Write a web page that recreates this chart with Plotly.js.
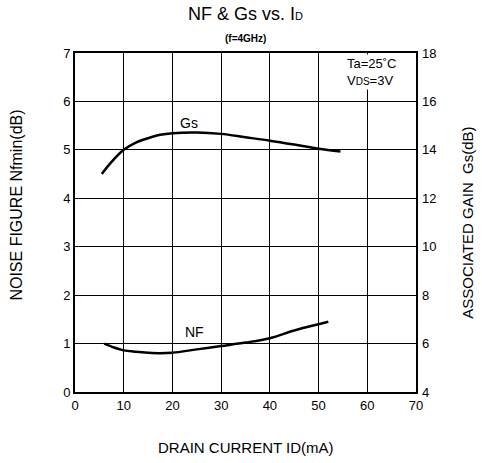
<!DOCTYPE html>
<html>
<head>
<meta charset="utf-8">
<script src="https://cdn.plot.ly/plotly-3.0.1.min.js"></script>
<style>html,body{margin:0;padding:0;background:#fff;}#chart{width:482px;height:463px;}</style>
</head>
<body>
<div id="chart"></div>
<script>
// Drain current (mA) and noise figure NFmin (dB)
const nfCurrent = [6, 8, 10, 12.5, 15, 17.5, 20, 25, 30, 35, 40, 45, 50, 52];
const nfValues  = [1.0, 0.92, 0.86, 0.83, 0.81, 0.80, 0.81, 0.88, 0.95, 1.02, 1.11, 1.27, 1.40, 1.45];
// Drain current (mA) and associated gain Gs (dB)
const gsCurrent = [5.5, 7.5, 10, 12.5, 15, 17.5, 20, 25, 30, 35, 40, 45, 50, 54.5];
const gsValues  = [13.0, 13.5, 14.0, 14.3, 14.48, 14.62, 14.69, 14.72, 14.66, 14.52, 14.38, 14.22, 14.05, 13.93];
// Axis ticks
const xTicks = [0, 10, 20, 30, 40, 50, 60, 70];
const nfTicks = [0, 1, 2, 3, 4, 5, 6, 7];
const gsTicks = [4, 6, 8, 10, 12, 14, 16, 18];

const FONT = 'Liberation Sans, Arial, Helvetica, sans-serif';

const traces = [
  {x: nfCurrent, y: nfValues, type: 'scatter', mode: 'lines', name: 'NF',
   line: {color: '#000', width: 2.5, shape: 'spline'}, yaxis: 'y'},
  {x: gsCurrent, y: gsValues, type: 'scatter', mode: 'lines', name: 'Gs',
   line: {color: '#000', width: 2.5, shape: 'spline'}, yaxis: 'y2'}
];

const layout = {
  width: 482, height: 463,
  margin: {l: 75, r: 66, t: 53, b: 71},
  paper_bgcolor: '#fff', plot_bgcolor: '#fff',
  showlegend: false,
  font: {family: FONT, color: '#000', size: 13},
  xaxis: {range: [0, 70], tickmode: 'array', tickvals: xTicks, ticktext: xTicks.map(String),
    showgrid: true, gridcolor: 'rgb(0,0,0)', gridwidth: 1.2, zeroline: false,
    showline: true, linecolor: '#000', linewidth: 2, mirror: true,
    ticks: '', tickfont: {size: 13}, fixedrange: true},
  yaxis: {range: [0, 7], tickmode: 'array', tickvals: nfTicks, ticktext: nfTicks.map(String),
    showgrid: true, gridcolor: 'rgb(0,0,0)', gridwidth: 1.2, zeroline: false,
    showline: true, linecolor: '#000', linewidth: 2, mirror: true,
    ticks: '', tickfont: {size: 13}, fixedrange: true},
  yaxis2: {range: [4, 18], tickmode: 'array', tickvals: gsTicks, ticktext: gsTicks.map(String),
    overlaying: 'y', side: 'right', showgrid: false, zeroline: false,
    showline: false, ticks: '', ticklabelstandoff: 5, tickfont: {size: 13}, fixedrange: true},
  annotations: [
    {text: 'NF &amp; Gs vs. I<span style="font-size:11px">D</span>', xref: 'paper', yref: 'paper',
     x: 0.5, y: 1.115, showarrow: false, font: {size: 18}, xanchor: 'center', yanchor: 'middle'},
    {text: '<b>(f=4GHz)</b>', xref: 'paper', yref: 'paper',
     x: 0.5, y: 1.044, showarrow: false, font: {size: 10}, xanchor: 'center', yanchor: 'middle'},
    {text: 'DRAIN CURRENT ID(mA)', xref: 'paper', yref: 'paper',
     x: 0.5, y: -0.165, showarrow: false, font: {size: 15}, xanchor: 'center', yanchor: 'middle'},
    {text: 'NOISE FIGURE Nfmin(dB)', xref: 'paper', yref: 'paper', textangle: -90,
     x: -0.17, y: 0.55, showarrow: false, font: {size: 16}, xanchor: 'center', yanchor: 'middle'},
    {text: 'ASSOCIATED GAIN  Gs(dB)', xref: 'paper', yref: 'paper', textangle: -90,
     x: 1.15, y: 0.5, showarrow: false, font: {size: 15}, xanchor: 'center', yanchor: 'middle'},
    {text: 'Ta=25˚C<br>V<span style="font-size:10px">DS</span>=3V', xref: 'x', yref: 'y',
     x: 61, y: 6.6, showarrow: false, font: {size: 13}, align: 'left',
     bgcolor: '#fff', xanchor: 'center', yanchor: 'middle'},
    {text: 'Gs', xref: 'x', yref: 'y', x: 23.5, y: 5.56, showarrow: false, font: {size: 14}},
    {text: 'NF', xref: 'x', yref: 'y', x: 24.5, y: 1.23, showarrow: false, font: {size: 14}}
  ]
};

Plotly.newPlot('chart', traces, layout, {staticPlot: true, displayModeBar: false});
</script>
</body>
</html>
